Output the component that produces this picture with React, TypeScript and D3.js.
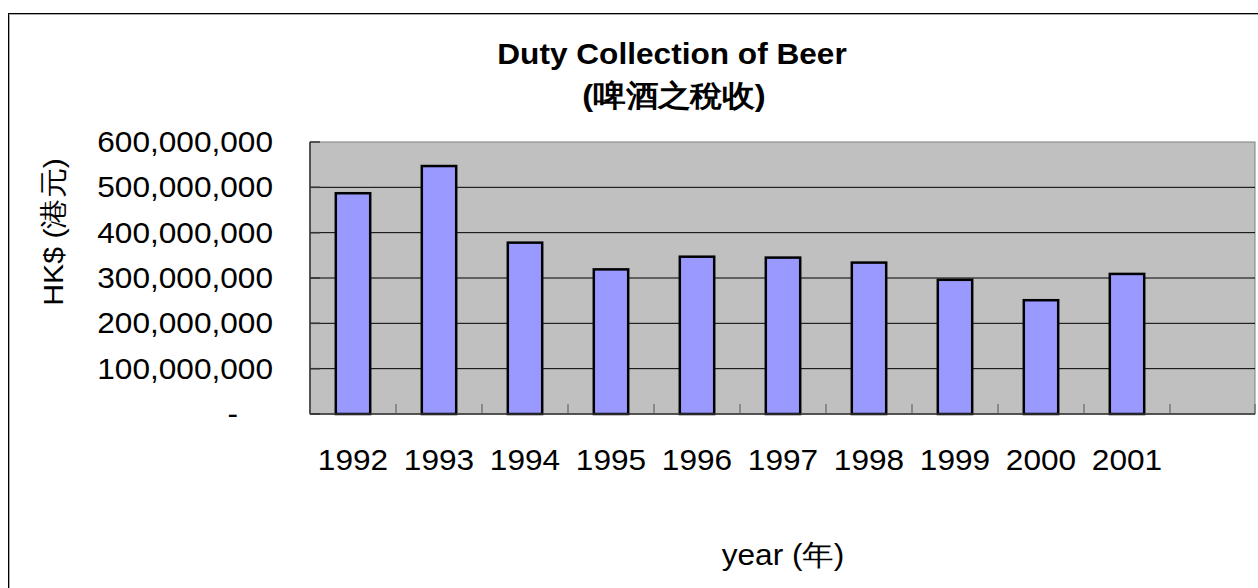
import React from "react";
import * as d3 from "d3";

// chart data
const years = ["1992", "1993", "1994", "1995", "1996", "1997", "1998", "1999", "2000", "2001"];
const duty = [487e6, 547e6, 378e6, 319e6, 347e6, 345e6, 334e6, 296e6, 251e6, 309e6];
const yTicks = [0, 1e8, 2e8, 3e8, 4e8, 5e8, 6e8];
// excel leaves one empty slot after the last year
const slots = [...years, ""];

const title1 = "Duty Collection of Beer";
const title2 = "(啤酒之稅收)";
const yTitle = "HK$ (港元)";
const xTitle = "year (年)";

const W = 1258,
  H = 588;
const plot = { left: 310, right: 1256, top: 142, bottom: 414 };
const SX = 1.09; // text in the original is a bit wide
const font = "'Liberation Sans', Arial, sans-serif";

const fmt = (v: number) => (v === 0 ? "-" : d3.format(",")(v));

const App = () => {
  const x = d3.scaleBand<string>().domain(slots).range([plot.left, plot.right]).padding(0);
  const y = d3.scaleLinear().domain([0, 6e8]).range([plot.bottom, plot.top]);
  const barW = x.bandwidth() * 0.4;

  const wide = (px: number, py: number) => `translate(${px},${py}) scale(${SX},1)`;

  return (
    <svg
      width={W}
      height={H}
      style={{ position: "absolute", left: 0, top: 0, background: "#fff" }}
      fontFamily={font}
    >
      {/* chart area border */}
      <rect x={8.5} y={13.5} width={1300} height={700} fill="none" stroke="#000" />
      <rect x={9.5} y={14.5} width={1300} height={700} fill="none" stroke="#aaa" />

      {/* title */}
      <text transform={wide(672, 64)} textAnchor="middle" fontSize={29} fontWeight="bold">
        {title1}
      </text>
      <text transform={wide(674, 106)} textAnchor="middle" fontSize={30} fontWeight="bold">
        {title2}
      </text>

      {/* plot area */}
      <rect
        x={plot.left}
        y={plot.top}
        width={plot.right - plot.left - 1}
        height={plot.bottom - plot.top}
        fill="#c0c0c0"
        stroke="#808080"
      />

      {/* gridlines + y ticks */}
      {yTicks.map((t) => (
        <g key={t}>
          {t > 0 && t < 6e8 && (
            <line x1={plot.left} x2={plot.right - 1} y1={y(t)} y2={y(t)} stroke="#000" strokeWidth={1} />
          )}
          <line x1={plot.left} x2={plot.left + 10} y1={y(t)} y2={y(t)} stroke="#333" strokeWidth={1.5} />
          <text
            transform={t === 0 ? wide(238, y(t) + 10) : wide(273, y(t) + 10)}
            textAnchor="end"
            fontSize={29}
          >
            {fmt(t)}
          </text>
        </g>
      ))}

      {/* bars */}
      {years.map((yr, i) => (
        <rect
          key={yr}
          x={(x(yr) as number) + x.bandwidth() / 2 - barW / 2}
          y={y(duty[i])}
          width={barW}
          height={plot.bottom - y(duty[i])}
          fill="#9999ff"
          stroke="#000"
          strokeWidth={2.5}
        />
      ))}

      {/* axes */}
      <line x1={plot.left} x2={plot.left} y1={plot.top} y2={plot.bottom} stroke="#333" strokeWidth={1.5} />
      <line x1={plot.left} x2={plot.right - 1} y1={plot.bottom} y2={plot.bottom} stroke="#333" strokeWidth={1.5} />
      {slots.map((s, i) => {
        const bx = x(s) as number;
        return <line key={"t" + i} x1={bx} x2={bx} y1={plot.bottom} y2={plot.bottom - 10} stroke="#555" />;
      })}
      <line x1={plot.right - 1} x2={plot.right - 1} y1={plot.bottom} y2={plot.bottom - 10} stroke="#555" />

      {/* x labels */}
      {years.map((yr) => (
        <text
          key={"l" + yr}
          transform={wide((x(yr) as number) + x.bandwidth() / 2, 470)}
          textAnchor="middle"
          fontSize={29}
        >
          {yr}
        </text>
      ))}

      {/* axis titles */}
      <text transform={wide(783, 565)} textAnchor="middle" fontSize={29}>
        {xTitle}
      </text>
      <text transform="translate(63,232) rotate(-90) scale(1.08,1)" textAnchor="middle" fontSize={28}>
        {yTitle}
      </text>
    </svg>
  );
};

export default App;
